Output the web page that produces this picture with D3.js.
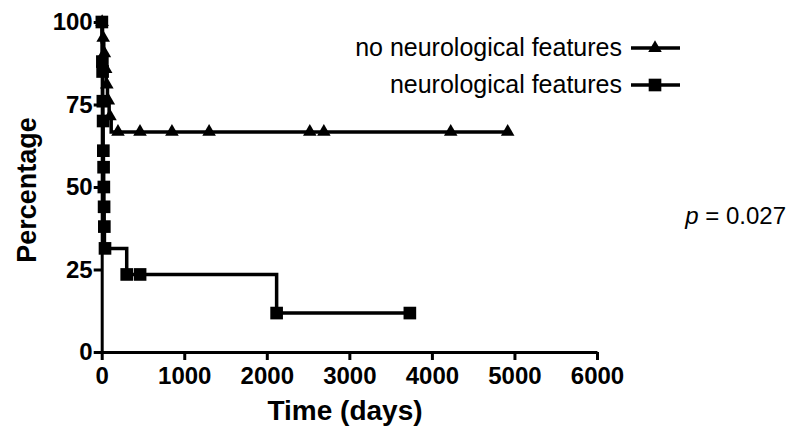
<!DOCTYPE html>
<html>
<head>
<meta charset="utf-8">
<script src="https://cdn.jsdelivr.net/npm/d3@7"></script>
<style>
  body { margin: 0; background: #fff; }
  svg text { font-family: "Liberation Sans", Arial, sans-serif; fill: #000; }
  .axis text { font-weight: bold; font-size: 24px; }
  .axis path, .axis line { stroke: #000; stroke-width: 3px; }
</style>
</head>
<body>
<svg id="chart" width="792" height="432"></svg>
<script>
    //////////// DATA ////////////

    // no neurological features: step times (days) and survival (%)
    var noNeuroTimes = [0, 10, 25, 40, 55, 70, 90, 115];
    var noNeuroSurv = [100, 95.2, 90.5, 85.7, 81, 76.2, 71.4, 66.7];
    // censored cases (triangles)
    var noNeuroCensorTimes = [5, 18, 32, 48, 62, 80, 100, 197, 464, 851, 1301, 2521, 2691, 4228, 4918];
    var noNeuroCensorSurv = [100, 95.2, 90.5, 85.7, 81, 76.2, 71.4, 66.7, 66.7, 66.7, 66.7, 66.7, 66.7, 66.7, 66.7];

    // neurological features
    var neuroTimes = [0, 3, 6, 9, 12, 15, 18, 21, 24, 27, 30, 33, 303, 2119];
    var neuroSurv = [100, 94, 88, 85, 76, 70, 61, 56, 50, 44, 38, 31.4, 23.5, 11.8];
    var neuroCensorTimes = [2, 8, 11, 14, 17, 20, 23, 26, 29, 32, 40, 303, 465, 2119, 3733];
    var neuroCensorSurv = [100, 88, 85, 76, 70, 61, 56, 50, 44, 38, 31.4, 23.5, 23.5, 11.8, 11.8];

    var xTicks = [0, 1000, 2000, 3000, 4000, 5000, 6000];
    var yTicks = [0, 25, 50, 75, 100];

    //////////// SCALES ////////////

    var svg = d3.select("#chart");

    var x = d3.scaleLinear().domain([0, 6000]).range([101.7, 597]);
    var y = d3.scaleLinear().domain([0, 100]).range([352, 22]);

    // build step points, extend to last censored time
    function stepPoints(times, surv, endTime) {
        var pts = times.map(function (t, i) { return [t, surv[i]]; });
        pts.push([endTime, surv[surv.length - 1]]);
        return pts;
    }

    var stepLine = d3.line()
        .x(function (d) { return x(d[0]); })
        .y(function (d) { return y(d[1]); })
        .curve(d3.curveStepAfter);

    //////////// AXES ////////////

    svg.append("g")
        .attr("class", "axis")
        .attr("transform", "translate(0," + y(0) + ")")
        .call(d3.axisBottom(x).tickValues(xTicks).tickFormat(d3.format("d"))
            .tickSize(8).tickSizeOuter(0).tickPadding(7));

    svg.append("g")
        .attr("class", "axis")
        .attr("transform", "translate(" + x(0) + ",0)")
        .call(d3.axisLeft(y).tickValues(yTicks).tickSize(8).tickSizeOuter(0).tickPadding(1));

    // axis titles
    svg.append("text")
        .attr("x", 345)
        .attr("y", 420)
        .attr("text-anchor", "middle")
        .style("font-weight", "bold")
        .style("font-size", "28px")
        .text("Time (days)");

    svg.append("text")
        .attr("transform", "translate(36,190) rotate(-90)")
        .attr("text-anchor", "middle")
        .style("font-weight", "bold")
        .style("font-size", "27px")
        .text("Percentage");

    //////////// CURVES ////////////

    var triangle = d3.symbol().type(d3.symbolTriangle).size(80);
    var square = d3.symbol().type(d3.symbolSquare).size(160);

    function drawCurve(times, surv, cTimes, cSurv, sym) {
        var g = svg.append("g");
        g.append("path")
            .datum(stepPoints(times, surv, d3.max(cTimes)))
            .attr("d", stepLine)
            .attr("fill", "none")
            .attr("stroke", "#000")
            .attr("stroke-width", 3.5);
        g.selectAll("path.mark")
            .data(cTimes)
            .enter().append("path")
            .attr("class", "mark")
            .attr("d", sym)
            .attr("transform", function (d, i) {
                return "translate(" + x(d) + "," + y(cSurv[i]) + ")";
            })
            .attr("fill", "#000");
    }

    drawCurve(noNeuroTimes, noNeuroSurv, noNeuroCensorTimes, noNeuroCensorSurv, triangle);
    drawCurve(neuroTimes, neuroSurv, neuroCensorTimes, neuroCensorSurv, square);

    //////////// LEGEND ////////////

    var legend = [
        { label: "no neurological features", sym: triangle, y: 48 },
        { label: "neurological features", sym: square, y: 85 }
    ];

    legend.forEach(function (l) {
        svg.append("text")
            .attr("x", 622)
            .attr("y", l.y + 8)
            .attr("text-anchor", "end")
            .style("font-size", "25px")
            .text(l.label);
        svg.append("line")
            .attr("x1", 631).attr("x2", 680)
            .attr("y1", l.y).attr("y2", l.y)
            .attr("stroke", "#000")
            .attr("stroke-width", 3.5);
        svg.append("path")
            .attr("d", l.sym)
            .attr("transform", "translate(655," + l.y + ")");
    });

    // p value
    var p = svg.append("text")
        .attr("x", 786)
        .attr("y", 224)
        .attr("text-anchor", "end")
        .style("font-size", "24px");
    p.append("tspan").style("font-style", "italic").text("p");
    p.append("tspan").text(" = 0.027");
</script>
</body>
</html>
